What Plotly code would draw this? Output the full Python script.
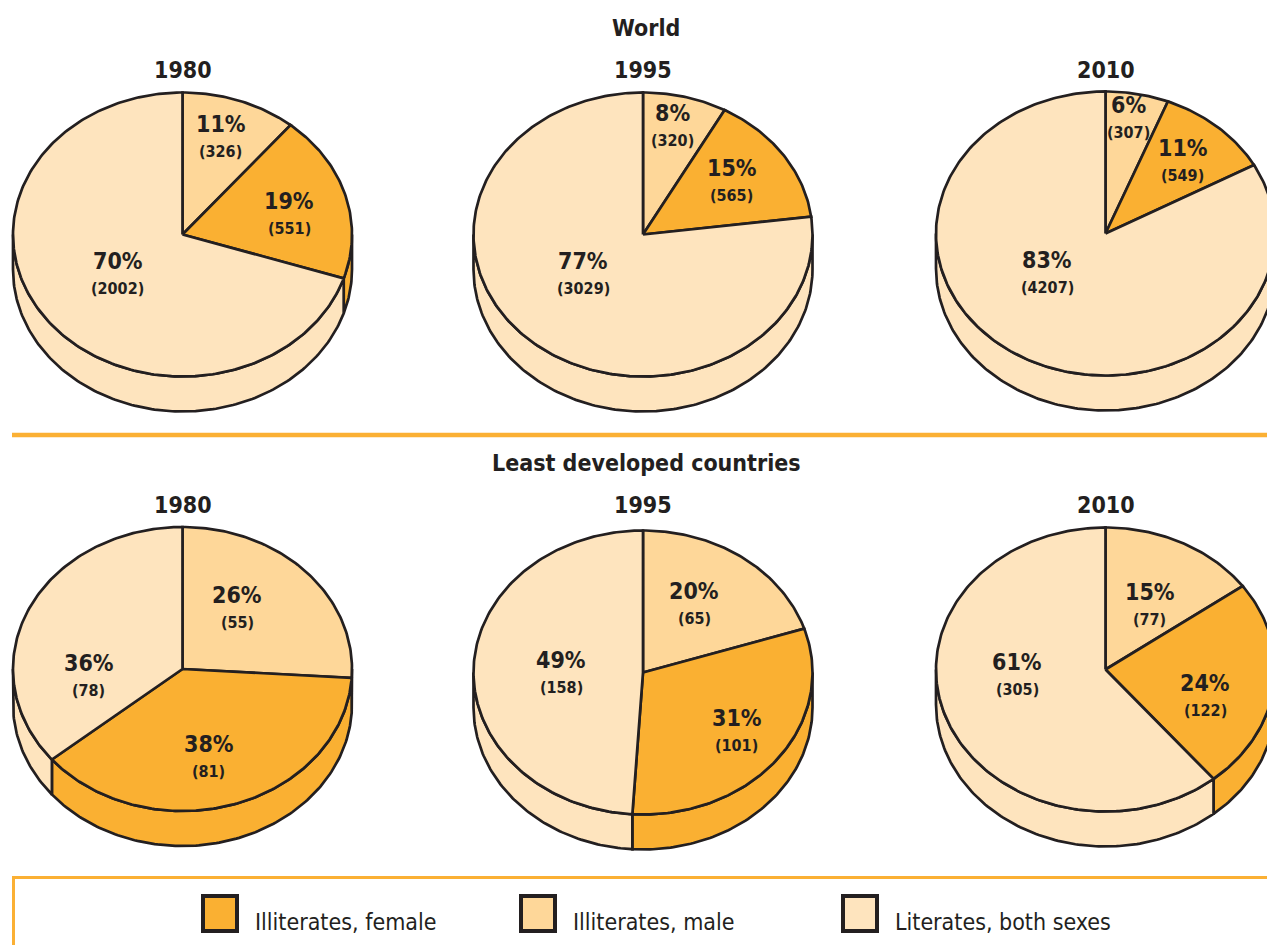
import numpy as np
import plotly.graph_objects as go

# ------------------------------------------------------------------ data
REGIONS = ["World", "Least developed countries"]
YEARS = ["1980", "1995", "2010"]
# slice order, clockwise from 12 o'clock
CATEGORIES = ["Illiterates, male", "Illiterates, female", "Literates, both sexes"]
LEGEND_ORDER = ["Illiterates, female", "Illiterates, male", "Literates, both sexes"]

# shares (%) and absolute numbers (millions) per year
WORLD_MALE_PCT = [11, 8, 6]
WORLD_FEMALE_PCT = [19, 15, 11]
WORLD_LIT_PCT = [70, 77, 83]
WORLD_MALE_N = [326, 320, 307]
WORLD_FEMALE_N = [551, 565, 549]
WORLD_LIT_N = [2002, 3029, 4207]

LDC_MALE_PCT = [26, 20, 15]
LDC_FEMALE_PCT = [38, 31, 24]
LDC_LIT_PCT = [36, 49, 61]
LDC_MALE_N = [55, 65, 77]
LDC_FEMALE_N = [81, 101, 122]
LDC_LIT_N = [78, 158, 305]

PCT = [
    [WORLD_MALE_PCT, WORLD_FEMALE_PCT, WORLD_LIT_PCT],
    [LDC_MALE_PCT, LDC_FEMALE_PCT, LDC_LIT_PCT],
]
NUM = [
    [WORLD_MALE_N, WORLD_FEMALE_N, WORLD_LIT_N],
    [LDC_MALE_N, LDC_FEMALE_N, LDC_LIT_N],
]

# ------------------------------------------------------------------ style / layout
W, H = 1267, 945
COLORS = {
    "Illiterates, female": "#FAB032",
    "Illiterates, male": "#FED799",
    "Literates, both sexes": "#FEE4BE",
}
EDGE = "#231F20"
ACCENT = "#FBB034"
COND_FONT = "DejaVu Sans Condensed, Liberation Sans Narrow, sans-serif"

COL_X = [182.5, 643.0, 1105.5]
PIE_CY = [[234.5, 234.5, 233.5], [669.0, 672.5, 669.5]]
RX, RY, DEPTH = 169.5, 142.0, 35.0
LINE_W = 2.7

# label anchor offsets as fractions of (RX, RY), per pie, per slice (CATEGORIES order)
LABEL_OFFSETS = [
    [[(0.227, -0.684), (0.631, -0.144), (-0.381, 0.284)],
     [(0.174, -0.758), (0.525, -0.372), (-0.354, 0.284)],
     [(0.133, -0.807), (0.457, -0.505), (-0.345, 0.281)]],
    [[(0.323, -0.423), (0.155, 0.621), (-0.553, 0.056)],
     [(0.303, -0.480), (0.553, 0.413), (-0.482, 0.010)],
     [(0.261, -0.454), (0.588, 0.188), (-0.521, 0.040)]],
]


def ell(cx, cy, t_deg, dy=0.0):
    t = np.radians(np.asarray(t_deg, dtype=float))
    return cx + RX * np.sin(t), cy - RY * np.cos(t) + dy


fig = go.Figure()
annotations = []
shapes = []

# side walls first
for r in range(2):
    for c in range(3):
        cx, cy = COL_X[c], PIE_CY[r][c]
        start = 0.0
        for k, cat in enumerate(CATEGORIES):
            share = PCT[r][k][c]
            a1, a2 = start, start + share * 3.6
            start = a2
            s1, s2 = max(a1, 90.0), min(a2, 270.0)
            if s2 > s1:
                t = np.linspace(s1, s2, int(s2 - s1) + 2)
                xt, yt = ell(cx, cy, t)
                xb, yb = ell(cx, cy, t[::-1], DEPTH)
                xs = np.concatenate([xt, xb, xt[:1]])
                ys = np.concatenate([yt, yb, yt[:1]])
                fig.add_trace(go.Scatter(
                    x=xs, y=ys, mode="lines", fill="toself",
                    fillcolor=COLORS[cat], line=dict(color=EDGE, width=LINE_W),
                    hoverinfo="skip", showlegend=False))

# top faces
for r in range(2):
    for c in range(3):
        cx, cy = COL_X[c], PIE_CY[r][c]
        start = 0.0
        for k, cat in enumerate(CATEGORIES):
            share = PCT[r][k][c]
            a1, a2 = start, start + share * 3.6
            start = a2
            t = np.linspace(a1, a2, int(a2 - a1) + 2)
            xa, ya = ell(cx, cy, t)
            xs = np.concatenate([[cx], xa, [cx]])
            ys = np.concatenate([[cy], ya, [cy]])
            fig.add_trace(go.Scatter(
                x=xs, y=ys, mode="lines", fill="toself",
                fillcolor=COLORS[cat], line=dict(color=EDGE, width=LINE_W),
                hoverinfo="skip", showlegend=False, name=cat))
            fx, fy = LABEL_OFFSETS[r][c][k]
            lx, ly = cx + fx * RX, cy + fy * RY
            annotations.append(dict(
                x=lx, y=ly - 13.5, xref="x", yref="y", showarrow=False,
                text=f"<b>{share}%</b>",
                font=dict(family=COND_FONT, size=23, color=EDGE)))
            annotations.append(dict(
                x=lx, y=ly + 14, xref="x", yref="y", showarrow=False,
                text=f"<b>({NUM[r][k][c]})</b>",
                font=dict(family=COND_FONT, size=16, color=EDGE)))

# titles
REGION_Y = [28, 463]
YEAR_Y = [70, 505]
for r in range(2):
    annotations.append(dict(
        x=646, y=REGION_Y[r], xref="x", yref="y", showarrow=False,
        text=f"<b>{REGIONS[r]}</b>",
        font=dict(family=COND_FONT, size=23, color=EDGE)))
    for c in range(3):
        annotations.append(dict(
            x=COL_X[c], y=YEAR_Y[r], xref="x", yref="y", showarrow=False,
            text=f"<b>{YEARS[c]}</b>",
            font=dict(family=COND_FONT, size=23, color=EDGE)))

# separator line
shapes.append(dict(type="line", xref="x", yref="y", x0=12, x1=W + 5, y0=435, y1=435,
                   line=dict(color=ACCENT, width=4.5)))
# legend frame
shapes.append(dict(type="rect", xref="x", yref="y", x0=13.5, x1=W + 20, y0=877.5, y1=H + 20,
                   line=dict(color=ACCENT, width=3), fillcolor="rgba(0,0,0,0)"))

# legend entries
LEG_SWATCH_X = [201, 519, 841]
for i, cat in enumerate(LEGEND_ORDER):
    x0 = LEG_SWATCH_X[i]
    shapes.append(dict(type="rect", xref="x", yref="y", x0=x0 + 2, x1=x0 + 36,
                       y0=896, y1=931, fillcolor=COLORS[cat],
                       line=dict(color=EDGE, width=4)))
    annotations.append(dict(
        x=x0 + 52, y=922, xref="x", yref="y", showarrow=False,
        xanchor="left", yanchor="middle", text=cat,
        font=dict(family=COND_FONT, size=23, color=EDGE)))

fig.update_layout(
    width=W, height=H,
    margin=dict(l=0, r=0, t=0, b=0),
    paper_bgcolor="white", plot_bgcolor="white",
    xaxis=dict(range=[0, W], visible=False, fixedrange=True),
    yaxis=dict(range=[H, 0], visible=False, fixedrange=True),
    showlegend=False,
    annotations=annotations,
    shapes=shapes,
)

fig.write_html("out.html")
